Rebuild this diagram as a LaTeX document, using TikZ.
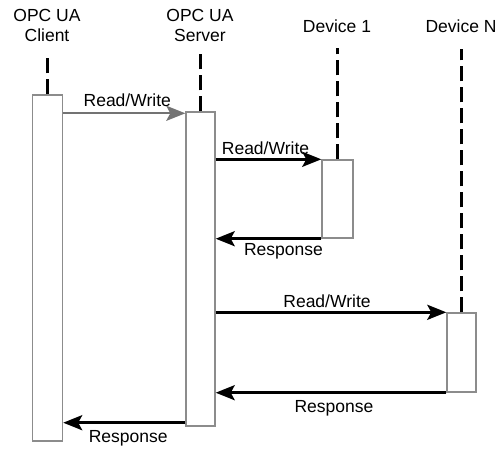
\documentclass[tikz,border=0pt]{standalone}
\usepackage{fontspec}
\setmainfont{Liberation Sans}
\usetikzlibrary{arrows.meta,calc}

\begin{document}
\begin{tikzpicture}[x=1pt,y=-1pt,
    every node/.style={font=\fontsize{17.5}{20}\selectfont},
    actbox/.style={draw=black!45,line width=1.4pt,fill=white,inner sep=0pt},
    lifeline/.style={line width=3pt,dash pattern=on 15pt off 6pt},
    msg/.style={line width=3pt,-{Stealth[length=19pt,width=15pt,inset=4pt]}},
    greymsg/.style={msg,line width=2.2pt,draw=black!55,fill=black!55}]
  \useasboundingbox (0,0) rectangle (503,448);
  % headers
  \node[align=center] (hcl) at (47,25) {OPC UA\\Client};
  \node[align=center] (hsv) at (200,25) {OPC UA\\Server};
  \node (hd1) at (337,26) {Device 1};
  \node (hdn) at (461,26) {Device N};
  % activation boxes
  \node[actbox,minimum width=30pt,minimum height=346pt] (cl) at (47.5,268) {};
  \node[actbox,minimum width=29pt,minimum height=314pt] (sv) at (200.5,269) {};
  \node[actbox,minimum width=31pt,minimum height=78pt] (d1) at (337.5,199) {};
  \node[actbox,minimum width=29pt,minimum height=79pt] (dn) at (461.5,352.5) {};
  % lifelines
  \draw[lifeline] (cl.north) -- ++(0,-37);
  \draw[lifeline] (sv.north) -- ++(0,-59);
  \draw[lifeline,line width=3.6pt] (d1.north) -- ++(0,-111);
  \draw[lifeline,line width=2.4pt] (dn.north) -- ++(0,-263);
  % messages
  \coordinate (m1) at ($(cl.east |- sv.north)+(0,2)$);
  \coordinate (m6) at ($(sv.south west)+(0,-4)$);
  \draw[greymsg] (m1) -- node[above=2pt,xshift=3pt,text=black] {Read/Write} (m1 -| sv.west);
  \draw[msg] (sv.east |- d1.north) -- node[above=0pt,xshift=-3pt] {Read/Write} (d1.north west);
  \draw[msg] (d1.south west) -- node[below=0pt,xshift=15pt] {Response} (sv.east |- d1.south);
  \draw[msg] (sv.east |- dn.north) -- node[above=0pt,xshift=-4pt] {Read/Write} (dn.north west);
  \draw[msg] (dn.south west) -- node[below=3pt,xshift=3pt] {Response} (sv.east |- dn.south);
  \draw[msg] (m6) -- node[below=3pt,xshift=4pt] {Response} (m6 -| cl.east);
\end{tikzpicture}
\end{document}
